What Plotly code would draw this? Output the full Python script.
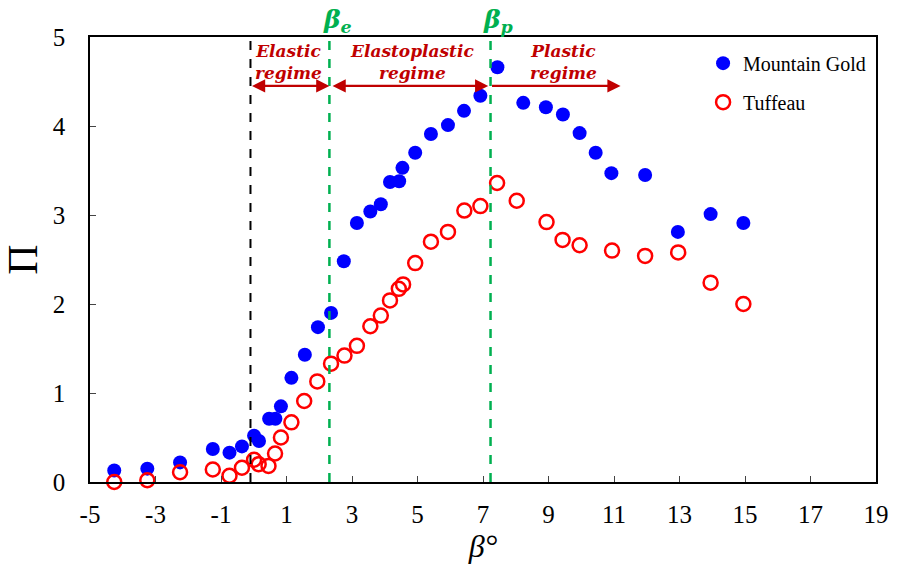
import plotly.graph_objects as go

# Mountain Gold (filled blue)
mg_x = [-4.26, -3.25, -2.25, -1.25, -0.74, -0.36, 0.01, 0.16, 0.47, 0.66, 0.83, 1.15, 1.56, 1.96, 2.36,
        2.75, 3.15, 3.56, 3.88, 4.16, 4.44, 4.54, 4.93, 5.41, 5.93, 6.42, 6.92, 7.44,
        8.23, 8.92, 9.44, 9.95, 10.44, 10.92, 11.95, 12.95, 13.95, 14.95]
mg_y = [0.13, 0.15, 0.22, 0.37, 0.33, 0.40, 0.52, 0.46, 0.71, 0.71, 0.85, 1.17, 1.43, 1.74, 1.90,
        2.48, 2.91, 3.04, 3.12, 3.37, 3.38, 3.53, 3.70, 3.91, 4.01, 4.17, 4.34, 4.66,
        4.26, 4.21, 4.13, 3.92, 3.70, 3.47, 3.45, 2.81, 3.01, 2.91]

# Tuffeau (open red)
tu_x = [-4.26, -3.25, -2.25, -1.25, -0.74, -0.36, 0.01, 0.15, 0.45, 0.65, 0.83, 1.15, 1.54, 1.94, 2.36,
        2.77, 3.15, 3.56, 3.88, 4.16, 4.43, 4.56, 4.93, 5.41, 5.93, 6.43, 6.92, 7.43,
        8.03, 8.94, 9.43, 9.95, 10.94, 11.95, 12.96, 13.95, 14.95]
tu_y = [0.00, 0.02, 0.11, 0.14, 0.07, 0.16, 0.25, 0.20, 0.18, 0.32, 0.50, 0.67, 0.91, 1.13, 1.33,
        1.42, 1.53, 1.75, 1.87, 2.04, 2.17, 2.22, 2.46, 2.70, 2.81, 3.05, 3.10, 3.36,
        3.16, 2.92, 2.72, 2.66, 2.60, 2.54, 2.58, 2.24, 2.00]

x_ticks = [-5, -3, -1, 1, 3, 5, 7, 9, 11, 13, 15, 17, 19]
x_tick_labels = ["-5", "-3", "-1", "1", "3", "5", "7", "9", "11", "13", "15", "17", "19"]
y_ticks = [0, 1, 2, 3, 4, 5]

beta_zero = -0.1
beta_e = 2.31
beta_p = 7.23
arrow_y = 4.45
plastic_end = 11.2

RED = "#C00000"
GREEN = "#00B050"
SERIF = "Liberation Serif"

fig = go.Figure()
fig.add_trace(go.Scatter(
    x=mg_x, y=mg_y, mode="markers", name="Mountain Gold", legendgroup="a",
    marker=dict(symbol="circle", size=14, color="#0000FF"), cliponaxis=False))
fig.add_trace(go.Scatter(
    x=tu_x, y=tu_y, mode="markers", name="Tuffeau", legendgroup="b",
    marker=dict(symbol="circle-open", size=14, color="#FF0000", line=dict(width=2.5, color="#FF0000")),
    cliponaxis=False))

# vertical dashed lines
fig.add_shape(type="line", x0=beta_zero, x1=beta_zero, y0=0, y1=5, xref="x", yref="y",
              line=dict(color="black", width=2, dash="dash"))
for bx in (beta_e, beta_p):
    fig.add_shape(type="line", x0=bx, x1=bx, y0=0, y1=5, xref="x", yref="y",
                  line=dict(color=GREEN, width=2.5, dash="dash"))

# arrows
def arrow(x0, x1, both=True):
    fig.add_annotation(x=x1, y=arrow_y, ax=x0, ay=arrow_y, xref="x", yref="y", axref="x", ayref="y",
                       text="", showarrow=True, arrowhead=2, arrowsize=1.2, arrowwidth=2.2,
                       arrowcolor=RED, arrowside="end+start" if both else "end", standoff=0, startstandoff=0)

arrow(beta_zero, beta_e)
arrow(beta_e + 0.05, beta_p - 0.07)
arrow(beta_p, plastic_end, both=False)

font_reg = dict(family="DejaVu Serif", size=17, color=RED)
for txt, xc in (("<b><i>Elastic<br>regime</i></b>", 1.07),
                ("<b><i>Elastoplastic<br>regime</i></b>", 4.84),
                ("<b><i>Plastic<br>regime</i></b>", 9.47)):
    fig.add_annotation(x=xc, y=4.72, xref="x", yref="y", text=txt, showarrow=False,
                       font=font_reg, align="center")

for txt, bx in (("<b><i>β<sub>e</sub></i></b>", beta_e), ("<b><i>β<sub>p</sub></i></b>", beta_p)):
    fig.add_annotation(x=bx + 0.25, y=1.0, xref="x", yref="paper", yanchor="bottom", yshift=-2, text=txt,
                       showarrow=False, font=dict(family="DejaVu Serif", size=25, color=GREEN))

fig.update_layout(
    width=901, height=566,
    margin=dict(l=90, r=18, t=37, b=84),
    paper_bgcolor="white", plot_bgcolor="white",
    font=dict(family=SERIF, color="black"),
    showlegend=True,
    legend=dict(x=0.78, y=0.985, xanchor="left", yanchor="top", bgcolor="rgba(0,0,0,0)",
                font=dict(family=SERIF, size=20), tracegroupgap=10, itemwidth=30),
    xaxis=dict(range=[-5, 19], tickvals=x_ticks, ticktext=x_tick_labels, ticks="inside", ticklen=6,
               showline=True, linecolor="black", linewidth=1.5, mirror=True, showgrid=False, zeroline=False,
               tickfont=dict(family=SERIF, size=25), ticklabelstandoff=9,
               title=dict(text="<i>β°</i>", font=dict(family=SERIF, size=32), standoff=4)),
    yaxis=dict(range=[0, 5], tickvals=y_ticks, ticks="inside", ticklen=6,
               showline=True, linecolor="black", linewidth=1.5, mirror=True, showgrid=False, zeroline=False,
               tickfont=dict(family=SERIF, size=25), ticklabelstandoff=18,
               title=dict(text="Π", font=dict(family=SERIF, size=42), standoff=8)),
)

fig.write_html("out.html")
